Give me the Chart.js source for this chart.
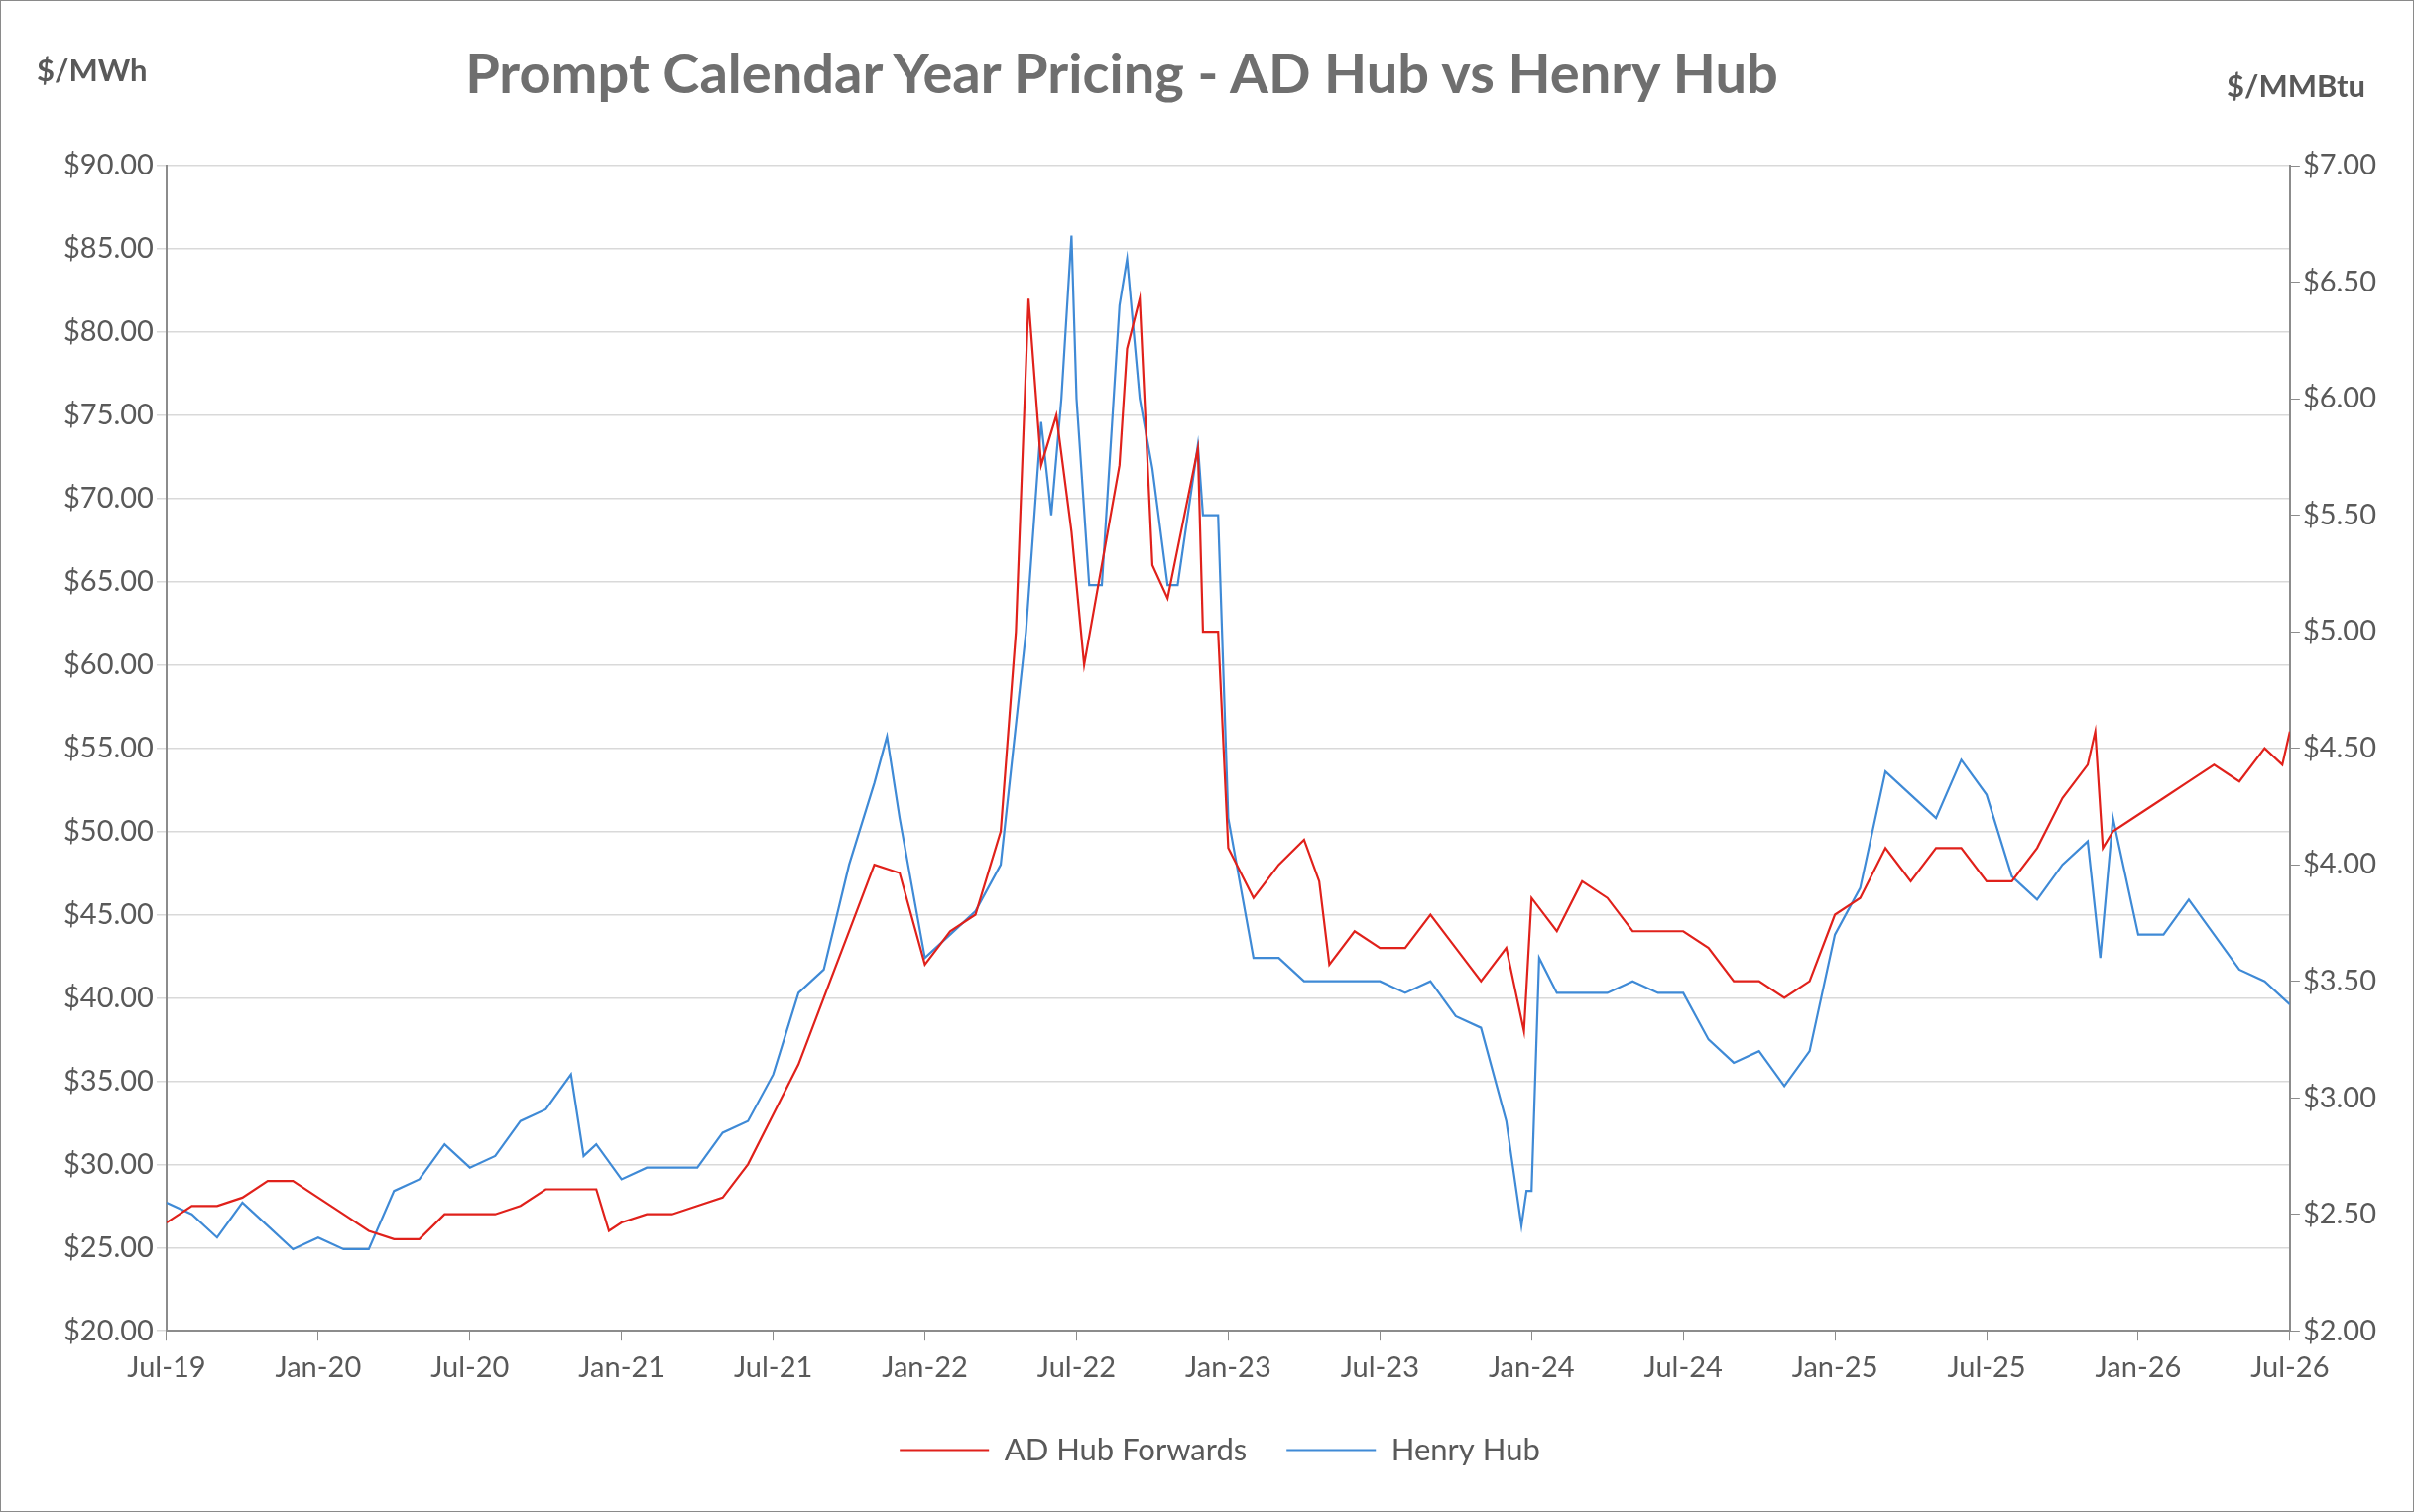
<!DOCTYPE html>
<html><head><meta charset="utf-8">
<script src="https://cdn.jsdelivr.net/npm/chart.js@4"></script>
<style>
body{margin:0;background:#fff;font-family:Lato,sans-serif;}
#wrap{position:relative;width:2432px;height:1523px;border:1px solid #8a8a8a;}
#title{position:absolute;top:38px;left:0;width:2260px;text-align:center;font-size:56px;font-weight:bold;color:#6f6f6f;}
.unit{position:absolute;font-size:31px;font-weight:bold;color:#595959;}
</style></head>
<body>
<div id="wrap">
<div id="title">Prompt Calendar Year Pricing - AD Hub vs Henry Hub</div>
<div class="unit" style="left:36px;top:50px">$/MWh</div>
<div class="unit" style="left:2244px;top:66px">$/MMBtu</div>
<canvas id="c" width="2432" height="1523"></canvas>
</div>
<script>
// months since Jul-19
const monthNames = ["Jan","Feb","Mar","Apr","May","Jun","Jul","Aug","Sep","Oct","Nov","Dec"];
const adMonths = [0,1,2,3,4,5,6,7,8,9,10,11,12,13,14,15,16,17,17.5,18,19,20,21,22,23,24,25,26,27,28,29,30,31,32,33,33.6,34.1,34.6,35.2,35.8,36.3,37,37.7,38,38.5,39,39.6,40,40.8,41,41.6,42,43,44,45,45.6,46,47,48,49,50,51,52,53,53.7,54,55,56,57,58,59,60,61,62,63,64,65,66,67,68,69,70,71,72,73,74,75,76,76.3,76.6,77,78,79,80,81,82,83,83.7,84];
const adHub = [26.5,27.5,27.5,28,29,29,28,27,26,25.5,25.5,27,27,27,27.5,28.5,28.5,28.5,26,26.5,27,27,27.5,28,30,33,36,40,44,48,47.5,42,44,45,50,62,82,72,75,68,60,66,72,79,82,66,64,67,73,62,62,49,46,48,49.5,47,42,44,43,43,45,43,41,43,38,46,44,47,46,44,44,44,43,41,41,40,41,45,46,49,47,49,49,47,47,49,52,54,56,49,50,51,52,53,54,53,55,54,56];
const hhMonths = [0,1,2,3,4,5,6,7,8,9,10,11,12,13,14,15,16,16.5,17,18,19,20,21,22,23,24,25,26,27,28,28.5,29,30,31,32,33,34,34.6,35,35.4,35.8,36,36.5,37,37.7,38,38.5,39,39.6,40,40.8,41,41.6,42,43,44,45,46,47,48,49,50,51,52,53,53.6,53.8,54,54.3,55,56,57,58,59,60,61,62,63,64,65,66,67,68,69,70,71,72,73,74,75,76,76.5,77,78,79,80,81,82,83,84];
const henryHub = [2.55,2.5,2.4,2.55,2.45,2.35,2.4,2.35,2.35,2.6,2.65,2.8,2.7,2.75,2.9,2.95,3.1,2.75,2.8,2.65,2.7,2.7,2.7,2.85,2.9,3.1,3.45,3.55,4.0,4.35,4.55,4.2,3.6,3.7,3.8,4.0,5.0,5.9,5.5,6.0,6.7,6.0,5.2,5.2,6.4,6.6,6.0,5.7,5.2,5.2,5.8,5.5,5.5,4.2,3.6,3.6,3.5,3.5,3.5,3.5,3.45,3.5,3.35,3.3,2.9,2.45,2.6,2.6,3.6,3.45,3.45,3.45,3.5,3.45,3.45,3.25,3.15,3.2,3.05,3.2,3.7,3.9,4.4,4.3,4.2,4.45,4.3,3.95,3.85,4.0,4.1,3.6,4.2,3.7,3.7,3.85,3.7,3.55,3.5,3.4];
const leftTicks = {min:20, max:90, step:5};
const rightTicks = {min:2, max:7, step:0.5};

const gray = "#595959";
const tickFont = {family:"Lato", size:29};
new Chart(document.getElementById("c"), {
  type: "line",
  data: {
    datasets: [
      {label:"AD Hub Forwards", data: adMonths.map((m,i)=>({x:m,y:adHub[i]})), borderColor:"#e0211b", backgroundColor:"#e0211b", borderWidth:2.2, pointRadius:0, yAxisID:"y", tension:0},
      {label:"Henry Hub", data: hhMonths.map((m,i)=>({x:m,y:henryHub[i]})), borderColor:"#3f8ad6", backgroundColor:"#3f8ad6", borderWidth:2.2, pointRadius:0, yAxisID:"y1", tension:0}
    ]
  },
  options: {
    responsive:false, animation:false,
    layout:{padding:{top:166,left:60,right:34,bottom:36}},
    plugins:{
      legend:{position:"bottom", labels:{usePointStyle:true, pointStyle:"line", pointStyleWidth:90, color:gray, font:{family:"Lato",size:31}, padding:40}},
      tooltip:{enabled:false}
    },
    scales:{
      x:{type:"linear", min:0, max:84,
        ticks:{stepSize:6, color:gray, font:tickFont, padding:10,
          callback:v=>monthNames[(v+6)%12]+"-"+(19+Math.floor((v+6)/12))},
        grid:{drawOnChartArea:false, tickLength:10, color:"#8c8c8c"},
        border:{color:"#8c8c8c", width:2}},
      y:{position:"left", min:leftTicks.min, max:leftTicks.max,
        ticks:{stepSize:leftTicks.step, color:gray, font:tickFont, callback:v=>"$"+v.toFixed(2)},
        grid:{color:"#d9d9d9", lineWidth:1.5, tickLength:10}, border:{color:"#8c8c8c", width:2}},
      y1:{position:"right", min:rightTicks.min, max:rightTicks.max,
        ticks:{stepSize:rightTicks.step, color:gray, font:tickFont, callback:v=>"$"+v.toFixed(2)},
        grid:{drawOnChartArea:false, tickLength:10, color:"#8c8c8c"}, border:{color:"#8c8c8c", width:2}}
    }
  }
});
</script>
</body></html>
